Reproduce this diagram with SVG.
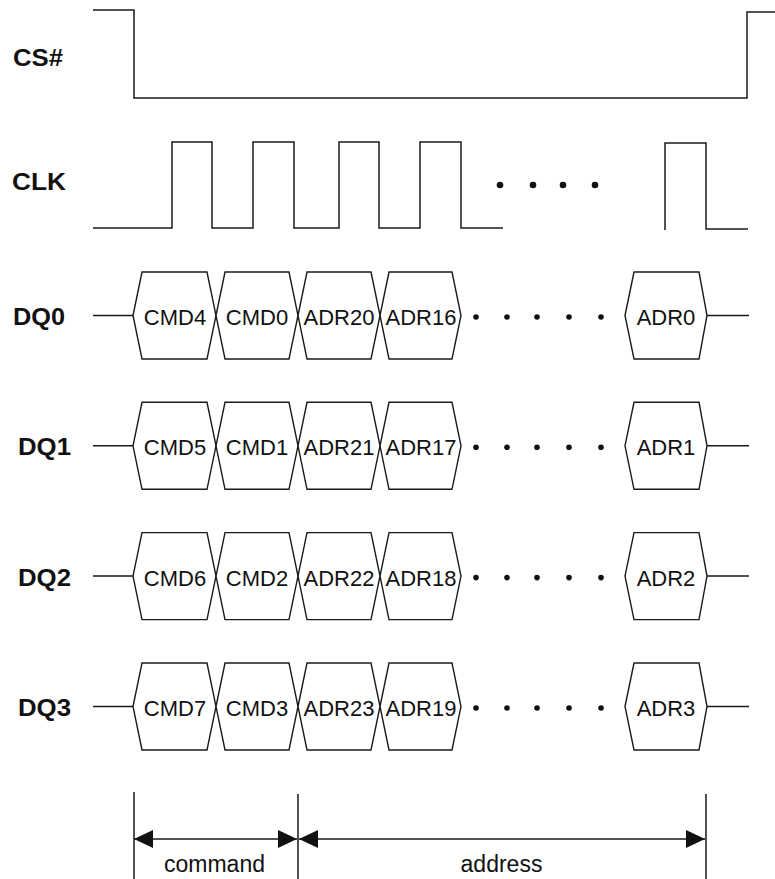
<svg xmlns="http://www.w3.org/2000/svg" width="775" height="879" viewBox="0 0 775 879">
<style>
.sig{fill:none;stroke:#1a1a1a;stroke-width:1.5}
.hex{fill:#fff;stroke:#1a1a1a;stroke-width:1.4}
.lbl{font-family:"Liberation Sans",Arial,sans-serif;font-size:24px;font-weight:bold;fill:#111}
.ht{font-family:"Liberation Sans",Arial,sans-serif;font-size:22px;fill:#111;text-anchor:middle}
.bt{font-family:"Liberation Sans",Arial,sans-serif;font-size:23px;fill:#111;text-anchor:middle}
.dot{fill:#111}
</style>
<defs>
<marker id="ah" viewBox="0 0 19 18" refX="19" refY="9" markerWidth="19" markerHeight="18" markerUnits="userSpaceOnUse" orient="auto-start-reverse">
<path d="M0,0 L19,9 L0,18 Z" fill="#111"/>
</marker>
</defs>
<rect width="775" height="879" fill="#fff"/>

<g id="cs">
<text class="lbl" x="13" y="66" textLength="50" lengthAdjust="spacingAndGlyphs">CS#</text>
<path class="sig" d="M93,10 H134 V98 H747 V12 H775"/>
</g>

<g id="clk">
<text class="lbl" x="12" y="190" textLength="54" lengthAdjust="spacingAndGlyphs">CLK</text>
<path class="sig" d="M93,228 H172 V142 H212 V228 H253 V142 H294 V228 H339 V142 H379 V228 H420 V142 H461 V228 H503"/>
<path class="sig" d="M665,230 V143 H706 V229 H748"/>
<circle class="dot" cx="500" cy="185" r="3.3"/>
<circle class="dot" cx="533" cy="185" r="3.3"/>
<circle class="dot" cx="563" cy="185" r="3.3"/>
<circle class="dot" cx="595" cy="185" r="3.3"/>
</g>

<g id="dq0">
<text class="lbl" x="13" y="325" textLength="52" lengthAdjust="spacingAndGlyphs">DQ0</text>
<path class="sig" d="M93,315.5 H133 M707,315.5 H749"/>
<polygon class="hex" points="133,315.5 142,272 207,272 216,315.5 207,359 142,359"/>
<polygon class="hex" points="216,315.5 225,272 289,272 298,315.5 289,359 225,359"/>
<polygon class="hex" points="298,315.5 307,272 371,272 380,315.5 371,359 307,359"/>
<polygon class="hex" points="380,315.5 389,272 452,272 461,315.5 452,359 389,359"/>
<polygon class="hex" points="625,315.5 634,272 699,272 707,315.5 699,359 634,359"/>
<text class="ht" x="175" y="325">CMD4</text>
<text class="ht" x="257" y="325">CMD0</text>
<text class="ht" x="339" y="325">ADR20</text>
<text class="ht" x="421" y="325">ADR16</text>
<text class="ht" x="666" y="325">ADR0</text>
<circle class="dot" cx="476" cy="317" r="2.8"/>
<circle class="dot" cx="507" cy="317" r="2.8"/>
<circle class="dot" cx="537" cy="317" r="2.8"/>
<circle class="dot" cx="569" cy="317" r="2.8"/>
<circle class="dot" cx="601" cy="317" r="2.8"/>
</g>

<g id="dq1" transform="translate(0,130.3)">
<text class="lbl" x="18" y="325" textLength="53" lengthAdjust="spacingAndGlyphs">DQ1</text>
<path class="sig" d="M93,315.5 H133 M707,315.5 H749"/>
<polygon class="hex" points="133,315.5 142,272 207,272 216,315.5 207,359 142,359"/>
<polygon class="hex" points="216,315.5 225,272 289,272 298,315.5 289,359 225,359"/>
<polygon class="hex" points="298,315.5 307,272 371,272 380,315.5 371,359 307,359"/>
<polygon class="hex" points="380,315.5 389,272 452,272 461,315.5 452,359 389,359"/>
<polygon class="hex" points="625,315.5 634,272 699,272 707,315.5 699,359 634,359"/>
<text class="ht" x="175" y="325">CMD5</text>
<text class="ht" x="257" y="325">CMD1</text>
<text class="ht" x="339" y="325">ADR21</text>
<text class="ht" x="421" y="325">ADR17</text>
<text class="ht" x="666" y="325">ADR1</text>
<circle class="dot" cx="476" cy="317" r="2.8"/>
<circle class="dot" cx="507" cy="317" r="2.8"/>
<circle class="dot" cx="537" cy="317" r="2.8"/>
<circle class="dot" cx="569" cy="317" r="2.8"/>
<circle class="dot" cx="601" cy="317" r="2.8"/>
</g>

<g id="dq2" transform="translate(0,260.6)">
<text class="lbl" x="18" y="325" textLength="53" lengthAdjust="spacingAndGlyphs">DQ2</text>
<path class="sig" d="M93,315.5 H133 M707,315.5 H749"/>
<polygon class="hex" points="133,315.5 142,272 207,272 216,315.5 207,359 142,359"/>
<polygon class="hex" points="216,315.5 225,272 289,272 298,315.5 289,359 225,359"/>
<polygon class="hex" points="298,315.5 307,272 371,272 380,315.5 371,359 307,359"/>
<polygon class="hex" points="380,315.5 389,272 452,272 461,315.5 452,359 389,359"/>
<polygon class="hex" points="625,315.5 634,272 699,272 707,315.5 699,359 634,359"/>
<text class="ht" x="175" y="325">CMD6</text>
<text class="ht" x="257" y="325">CMD2</text>
<text class="ht" x="339" y="325">ADR22</text>
<text class="ht" x="421" y="325">ADR18</text>
<text class="ht" x="666" y="325">ADR2</text>
<circle class="dot" cx="476" cy="317" r="2.8"/>
<circle class="dot" cx="507" cy="317" r="2.8"/>
<circle class="dot" cx="537" cy="317" r="2.8"/>
<circle class="dot" cx="569" cy="317" r="2.8"/>
<circle class="dot" cx="601" cy="317" r="2.8"/>
</g>

<g id="dq3" transform="translate(0,391)">
<text class="lbl" x="18" y="325" textLength="53" lengthAdjust="spacingAndGlyphs">DQ3</text>
<path class="sig" d="M93,315.5 H133 M707,315.5 H749"/>
<polygon class="hex" points="133,315.5 142,272 207,272 216,315.5 207,359 142,359"/>
<polygon class="hex" points="216,315.5 225,272 289,272 298,315.5 289,359 225,359"/>
<polygon class="hex" points="298,315.5 307,272 371,272 380,315.5 371,359 307,359"/>
<polygon class="hex" points="380,315.5 389,272 452,272 461,315.5 452,359 389,359"/>
<polygon class="hex" points="625,315.5 634,272 699,272 707,315.5 699,359 634,359"/>
<text class="ht" x="175" y="325">CMD7</text>
<text class="ht" x="257" y="325">CMD3</text>
<text class="ht" x="339" y="325">ADR23</text>
<text class="ht" x="421" y="325">ADR19</text>
<text class="ht" x="666" y="325">ADR3</text>
<circle class="dot" cx="476" cy="317" r="2.8"/>
<circle class="dot" cx="507" cy="317" r="2.8"/>
<circle class="dot" cx="537" cy="317" r="2.8"/>
<circle class="dot" cx="569" cy="317" r="2.8"/>
<circle class="dot" cx="601" cy="317" r="2.8"/>
</g>

<g id="connectors">
<path class="sig" d="M134,792 V879 M298,794 V879 M706,794 V879"/>
<line class="sig" x1="134" y1="839" x2="297" y2="839" marker-start="url(#ah)" marker-end="url(#ah)"/>
<line class="sig" x1="299" y1="839" x2="705" y2="839" marker-start="url(#ah)" marker-end="url(#ah)"/>
<text class="bt" x="214.5" y="872">command</text>
<text class="bt" x="501.5" y="872">address</text>
</g>
</svg>
